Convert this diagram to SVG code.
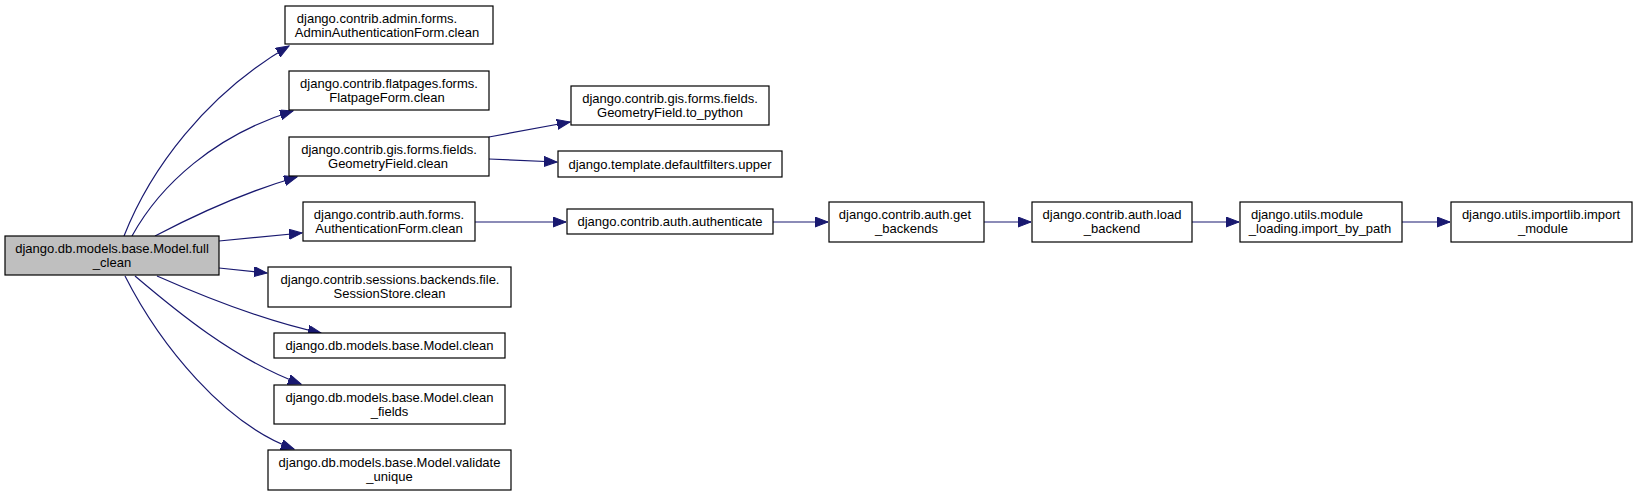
<svg xmlns="http://www.w3.org/2000/svg" width="1637" height="496" viewBox="0 0 1637 496">
<style>
.node rect{fill:#ffffff;stroke:#000000;stroke-width:1.2}
.node.main rect{fill:#bfbfbf}
.node text{font-family:"Liberation Sans",Arial,sans-serif;font-size:13px;fill:#000000;text-anchor:middle}
.edges path{fill:none;stroke:#191970;stroke-width:1.2;marker-end:url(#arrow)}
</style>
<defs>
<marker id="arrow" markerUnits="userSpaceOnUse" markerWidth="14" markerHeight="11" refX="13" refY="5" orient="auto">
<path d="M0,0 L13,5 L0,10 z" fill="#191970" stroke="#191970" stroke-width="1"/>
</marker>
</defs>
<rect width="1637" height="496" fill="#ffffff"/>
<g id="edges" class="edges">
<path d="M124,236 C150,170 205,95 289,46"/>
<path d="M132,236 C160,185 215,135 293,111"/>
<path d="M155,236 C195,215 245,192 297,177"/>
<path d="M219,241 L302,233"/>
<path d="M219,268 L267,273"/>
<path d="M157,276 C200,295 260,320 321,333"/>
<path d="M135,276 C175,310 235,360 301,384"/>
<path d="M125,276 C160,345 225,425 294,449"/>
<path d="M489,137 L570,122"/>
<path d="M489,159 L557,162"/>
<path d="M475,222 L566,222"/>
<path d="M773,222 L828,222"/>
<path d="M984,222 L1031,222"/>
<path d="M1192,222 L1239,222"/>
<path d="M1402,222 L1450,222"/>
</g>
<g id="node-full_clean" class="node main">
<rect x="5" y="236" width="214" height="39"/>
<text x="112" y="252.5">django.db.models.base.Model.full</text>
<text x="112" y="266.5">_clean</text>
</g>
<g id="node-admin_clean" class="node">
<rect x="285" y="6" width="208" height="38"/>
<text x="377" y="22.5">django.contrib.admin.forms.</text>
<text x="387" y="36.5">AdminAuthenticationForm.clean</text>
</g>
<g id="node-flatpage_clean" class="node">
<rect x="289" y="71" width="200" height="39"/>
<text x="389" y="87.5">django.contrib.flatpages.forms.</text>
<text x="387" y="101.5">FlatpageForm.clean</text>
</g>
<g id="node-geometry_clean" class="node">
<rect x="289" y="137" width="200" height="39"/>
<text x="389" y="153.5">django.contrib.gis.forms.fields.</text>
<text x="388" y="167.5">GeometryField.clean</text>
</g>
<g id="node-authform_clean" class="node">
<rect x="303" y="202" width="172" height="39"/>
<text x="389" y="218.5">django.contrib.auth.forms.</text>
<text x="389" y="232.5">AuthenticationForm.clean</text>
</g>
<g id="node-session_clean" class="node">
<rect x="268" y="267" width="243" height="40"/>
<text x="390" y="283.5">django.contrib.sessions.backends.file.</text>
<text x="389.5" y="297.5">SessionStore.clean</text>
</g>
<g id="node-model_clean" class="node">
<rect x="274" y="333" width="231" height="25"/>
<text x="389.5" y="350">django.db.models.base.Model.clean</text>
</g>
<g id="node-clean_fields" class="node">
<rect x="274" y="385" width="231" height="39"/>
<text x="389.5" y="401.5">django.db.models.base.Model.clean</text>
<text x="389.5" y="415.5">_fields</text>
</g>
<g id="node-validate_unique" class="node">
<rect x="268" y="450" width="243" height="40"/>
<text x="389.5" y="466.5">django.db.models.base.Model.validate</text>
<text x="389.5" y="480.5">_unique</text>
</g>
<g id="node-to_python" class="node">
<rect x="571" y="86" width="198" height="39"/>
<text x="670" y="102.5">django.contrib.gis.forms.fields.</text>
<text x="670" y="116.5">GeometryField.to_python</text>
</g>
<g id="node-upper" class="node">
<rect x="558" y="151" width="224" height="26"/>
<text x="670" y="168.5">django.template.defaultfilters.upper</text>
</g>
<g id="node-authenticate" class="node">
<rect x="567" y="209" width="206" height="25"/>
<text x="670" y="226">django.contrib.auth.authenticate</text>
</g>
<g id="node-get_backends" class="node">
<rect x="829" y="202" width="155" height="40"/>
<text x="905" y="218.5">django.contrib.auth.get</text>
<text x="906.5" y="232.5">_backends</text>
</g>
<g id="node-load_backend" class="node">
<rect x="1032" y="202" width="160" height="40"/>
<text x="1112" y="218.5">django.contrib.auth.load</text>
<text x="1112" y="232.5">_backend</text>
</g>
<g id="node-import_by_path" class="node">
<rect x="1240" y="202" width="162" height="40"/>
<text x="1307" y="218.5">django.utils.module</text>
<text x="1320" y="232.5">_loading.import_by_path</text>
</g>
<g id="node-import_module" class="node">
<rect x="1451" y="202" width="181" height="40"/>
<text x="1541" y="218.5">django.utils.importlib.import</text>
<text x="1543" y="232.5">_module</text>
</g>
</svg>
